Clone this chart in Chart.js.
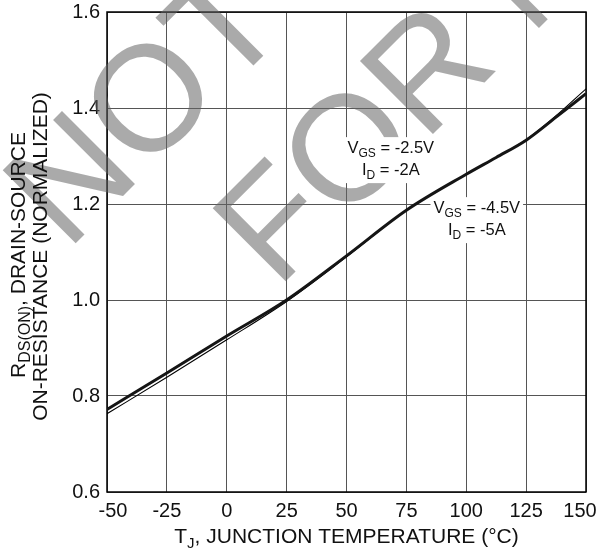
<!DOCTYPE html>
<html>
<head>
<meta charset="utf-8">
<script src="https://cdn.jsdelivr.net/npm/chart.js@4/dist/chart.umd.min.js"></script>
<style>
html, body { margin: 0; padding: 0; background: #fff; }
</style>
</head>
<body>
<canvas id="rdsChart" width="597" height="549"></canvas>
<script>
// junction temperature (°C)
const temps = [-50, -25, 0, 25, 50, 75, 100, 112.5, 125, 137.5, 150];
// normalized RDS(on), VGS = -4.5V, ID = -5A (thick curve)
const rds45 = [0.772, 0.848, 0.925, 1.000, 1.092, 1.187, 1.262, 1.297, 1.333, 1.381, 1.430];
// normalized RDS(on), VGS = -2.5V, ID = -2A (thin curve)
const rds25 = [0.763, 0.839, 0.917, 0.997, 1.090, 1.187, 1.262, 1.297, 1.334, 1.384, 1.440];

const xTicks = [-50, -25, 0, 25, 50, 75, 100, 125, 150];
const yTicks = [0.6, 0.8, 1.0, 1.2, 1.4, 1.6];

const FONT = "'Liberation Sans', Arial, sans-serif";

// text with subscripts: parts = [[text, isSub], ...]
function partsWidth(ctx, parts, size, subSize) {
  let w = 0;
  parts.forEach(p => {
    ctx.font = (p[1] ? subSize : size) + "px " + FONT;
    w += ctx.measureText(p[0]).width;
  });
  return w;
}
function drawParts(ctx, parts, x, y, size, subSize, subDrop) {
  const w = partsWidth(ctx, parts, size, subSize);
  let cx = x - w / 2;
  ctx.textAlign = "left";
  ctx.textBaseline = "alphabetic";
  parts.forEach(p => {
    ctx.font = (p[1] ? subSize : size) + "px " + FONT;
    ctx.fillText(p[0], cx, p[1] ? y + subDrop : y);
    cx += ctx.measureText(p[0]).width;
  });
  return w;
}

const curveNotes = [
  { x: 68.5, y: 1.306, lines: [[["V", false], ["GS", true], [" = -2.5V", false]],
                               [["I", false], ["D", true], [" = -2A", false]]] },
  { x: 104.4, y: 1.181, lines: [[["V", false], ["GS", true], [" = -4.5V", false]],
                                [["I", false], ["D", true], [" = -5A", false]]] }
];

const frameAndMark = {
  id: "frameAndMark",
  beforeDatasetsDraw(chart) {
    const ctx = chart.ctx, a = chart.chartArea;
    ctx.save();
    ctx.strokeStyle = "#000";
    ctx.lineWidth = 1.5;
    ctx.strokeRect(a.left, a.top, a.right - a.left, a.bottom - a.top);
    // watermark
    ctx.fillStyle = "rgba(100,100,100,0.55)";
    ctx.font = "150px " + FONT;
    ctx.textAlign = "left";
    ctx.textBaseline = "alphabetic";
    ctx.translate(67, 252);
    ctx.rotate(-Math.PI / 4);
    ctx.fillText("NOT", 0, 0);
    ctx.restore();
    ctx.save();
    ctx.fillStyle = "rgba(100,100,100,0.55)";
    ctx.font = "150px " + FONT;
    ctx.translate(277, 290);
    ctx.rotate(-Math.PI / 4);
    ctx.fillText("FOR NEW", 0, 0);
    ctx.restore();
  },
  afterDraw(chart) {
    const ctx = chart.ctx, a = chart.chartArea;
    const xs = chart.scales.x, ys = chart.scales.y;
    ctx.save();
    ctx.fillStyle = "#111";

    // x tick labels, end labels pulled inward a little
    ctx.font = "20px " + FONT;
    ctx.textAlign = "center";
    ctx.textBaseline = "alphabetic";
    xTicks.forEach((t, i) => {
      let px = xs.getPixelForValue(t);
      if (i === 0) px += 6;
      if (i === xTicks.length - 1) px -= 6;
      ctx.fillText(String(t), px, a.bottom + 25);
    });

    // x title
    drawParts(ctx, [["T", false], ["J", true], [", JUNCTION TEMPERATURE (°C)", false]],
      (a.left + a.right) / 2, 543, 21, 15, 5);

    // y title (rotated)
    ctx.save();
    ctx.translate(25, 255);
    ctx.rotate(-Math.PI / 2);
    drawParts(ctx, [["R", false], ["DS(ON)", true], [", DRAIN-SOURCE", false]], 0, 0, 21, 16, 5);
    ctx.restore();
    ctx.save();
    ctx.translate(46.5, 256.5);
    ctx.rotate(-Math.PI / 2);
    drawParts(ctx, [["ON-RESISTANCE (NORMALIZED)", false]], 0, 0, 21, 16, 5);
    ctx.restore();

    // curve notes with white boxes
    curveNotes.forEach(n => {
      const px = xs.getPixelForValue(n.x), py = ys.getPixelForValue(n.y);
      const w = Math.max(...n.lines.map(l => partsWidth(ctx, l, 16.5, 12)));
      ctx.fillStyle = "#fff";
      ctx.fillRect(px - w / 2 - 3, py - 16, w + 6, 46);
      ctx.fillStyle = "#111";
      n.lines.forEach((l, i) => drawParts(ctx, l, px, py + i * 22, 16.5, 12, 4));
    });
    ctx.restore();
  }
};

new Chart(document.getElementById("rdsChart"), {
  type: "line",
  data: {
    datasets: [
      {
        label: "VGS = -4.5V, ID = -5A",
        data: temps.map((t, i) => ({ x: t, y: rds45[i] })),
        borderColor: "#151515",
        borderWidth: 3,
        pointRadius: 0,
        cubicInterpolationMode: "monotone"
      },
      {
        label: "VGS = -2.5V, ID = -2A",
        data: temps.map((t, i) => ({ x: t, y: rds25[i] })),
        borderColor: "#000",
        borderWidth: 1.1,
        pointRadius: 0,
        cubicInterpolationMode: "monotone"
      }
    ]
  },
  options: {
    responsive: false,
    animation: false,
    devicePixelRatio: 1,
    layout: { padding: { left: 0, right: 11, top: 12, bottom: 0 } },
    plugins: { legend: { display: false }, tooltip: { enabled: false } },
    scales: {
      x: {
        type: "linear",
        min: -50,
        max: 150,
        afterBuildTicks: s => { s.ticks = xTicks.map(v => ({ value: v })); },
        ticks: { display: false },
        grid: { color: "#555", lineWidth: 1, drawTicks: false },
        border: { display: false },
        afterFit: s => { s.height = 57; s.paddingLeft = 0; s.paddingRight = 0; }
      },
      y: {
        min: 0.6,
        max: 1.6,
        afterBuildTicks: s => { s.ticks = yTicks.map(v => ({ value: v })); },
        ticks: {
          padding: 7,
          color: "#111",
          font: { family: FONT, size: 20 },
          callback: v => Number(v).toFixed(1)
        },
        grid: { color: "#555", lineWidth: 1, drawTicks: false },
        border: { display: false },
        afterFit: s => { s.width = 107; s.paddingTop = 0; s.paddingBottom = 0; }
      }
    }
  },
  plugins: [frameAndMark]
});
</script>
</body>
</html>
